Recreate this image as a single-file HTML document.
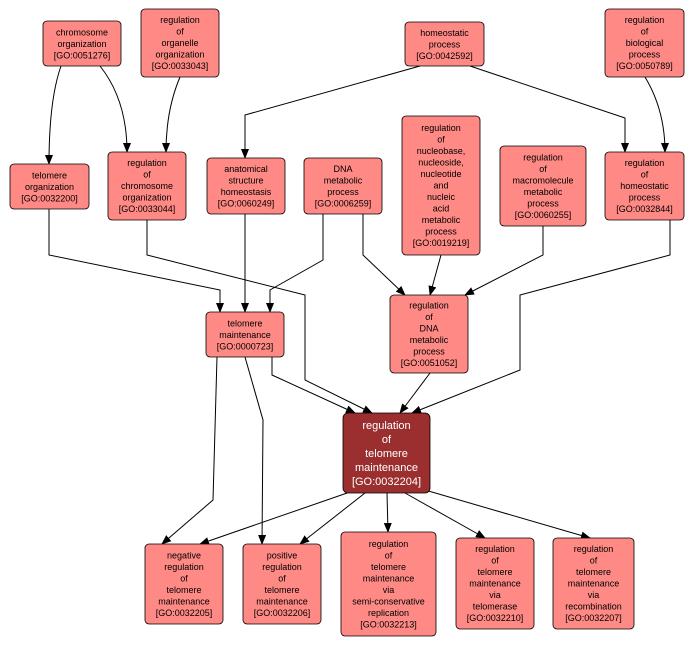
<!DOCTYPE html>
<html><head><meta charset="utf-8"><style>
html,body{margin:0;padding:0;background:#fff;}
svg{display:block;font-family:"Liberation Sans",sans-serif;}
.n{fill:#ff8a85;stroke:#000;stroke-width:0.8;}
text{font-size:9px;text-anchor:middle;fill:#000;}
.e{fill:none;stroke:#000;stroke-width:1;marker-end:url(#a);}
</style></head><body>
<svg width="696" height="647" viewBox="0 0 696 647">
<defs><marker id="a" markerWidth="10" markerHeight="8" refX="9" refY="4" orient="auto" markerUnits="userSpaceOnUse"><path d="M0,0 L10,4 L0,8 z" fill="#000"/></marker></defs>
<g>
<path class="e" d="M61,66 Q49,100 49,164"/>
<path class="e" d="M100,66 Q127,100 127,152"/>
<path class="e" d="M180,77 Q166,110 166,152"/>
<path class="e" d="M420,66 L245,115 L245,158"/>
<path class="e" d="M470,66 L625,118 L625,152"/>
<path class="e" d="M645,77 Q665,110 665,152"/>
<path class="e" d="M49,209 L49,255 L220,290 L220,312"/>
<path class="e" d="M245,214 L245,312"/>
<path class="e" d="M323,214 L323,260 L270,290 L270,312"/>
<path class="e" d="M363,214 L363,255 L405,295"/>
<path class="e" d="M441,255 L430,295"/>
<path class="e" d="M543,226 L543,255 L465,295"/>
<path class="e" d="M147,220 L147,255 L305,295 L305,380 L372,413"/>
<path class="e" d="M670,220 L670,255 L520,295 L520,370 L412,413"/>
<path class="e" d="M272,357 L272,375 L355,413"/>
<path class="e" d="M430,373 L400,413"/>
<path class="e" d="M217,357 L213,500 L162,544"/>
<path class="e" d="M245,357 L263,420 L262,544"/>
<path class="e" d="M350,492 L200,544"/>
<path class="e" d="M365,493 L300,544"/>
<path class="e" d="M387,493 L388,532"/>
<path class="e" d="M405,493 L485,538"/>
<path class="e" d="M425,490 L590,538"/>
</g>
<rect class="n" x="43" y="21" width="78" height="45" rx="4"/>
<text x="82" y="35.5">chromosome</text><text x="82" y="47">organization</text><text x="82" y="58.5">[GO:0051276]</text>
<rect class="n" x="141" y="9" width="78" height="68" rx="4"/>
<text x="180" y="23">regulation</text><text x="180" y="34.5">of</text><text x="180" y="46">organelle</text><text x="180" y="57.5">organization</text><text x="180" y="69">[GO:0033043]</text>
<rect class="n" x="405" y="22" width="79" height="44" rx="4"/>
<text x="444.5" y="36">homeostatic</text><text x="444.5" y="47.5">process</text><text x="444.5" y="59">[GO:0042592]</text>
<rect class="n" x="605" y="9" width="79" height="68" rx="4"/>
<text x="644.5" y="23">regulation</text><text x="644.5" y="34.5">of</text><text x="644.5" y="46">biological</text><text x="644.5" y="57.5">process</text><text x="644.5" y="69">[GO:0050789]</text>
<rect class="n" x="10" y="164" width="79" height="45" rx="4"/>
<text x="49.5" y="178.5">telomere</text><text x="49.5" y="190">organization</text><text x="49.5" y="201.5">[GO:0032200]</text>
<rect class="n" x="108" y="152" width="78" height="68" rx="4"/>
<text x="147" y="166">regulation</text><text x="147" y="177.5">of</text><text x="147" y="189">chromosome</text><text x="147" y="200.5">organization</text><text x="147" y="212">[GO:0033044]</text>
<rect class="n" x="207" y="158" width="78" height="56" rx="4"/>
<text x="246" y="171.75">anatomical</text><text x="246" y="183.25">structure</text><text x="246" y="194.75">homeostasis</text><text x="246" y="206.25">[GO:0060249]</text>
<rect class="n" x="304" y="158" width="78" height="56" rx="4"/>
<text x="343" y="171.75">DNA</text><text x="343" y="183.25">metabolic</text><text x="343" y="194.75">process</text><text x="343" y="206.25">[GO:0006259]</text>
<rect class="n" x="402" y="116" width="78" height="139" rx="4"/>
<text x="441" y="131">regulation</text><text x="441" y="142.5">of</text><text x="441" y="154">nucleobase,</text><text x="441" y="165.5">nucleoside,</text><text x="441" y="177">nucleotide</text><text x="441" y="188.5">and</text><text x="441" y="200">nucleic</text><text x="441" y="211.5">acid</text><text x="441" y="223">metabolic</text><text x="441" y="234.5">process</text><text x="441" y="246">[GO:0019219]</text>
<rect class="n" x="500" y="146" width="86" height="80" rx="4"/>
<text x="543" y="160.25">regulation</text><text x="543" y="171.75">of</text><text x="543" y="183.25">macromolecule</text><text x="543" y="194.75">metabolic</text><text x="543" y="206.25">process</text><text x="543" y="217.75">[GO:0060255]</text>
<rect class="n" x="605" y="152" width="79" height="68" rx="4"/>
<text x="644.5" y="166">regulation</text><text x="644.5" y="177.5">of</text><text x="644.5" y="189">homeostatic</text><text x="644.5" y="200.5">process</text><text x="644.5" y="212">[GO:0032844]</text>
<rect class="n" x="206" y="312" width="78" height="45" rx="4"/>
<text x="245" y="326.5">telomere</text><text x="245" y="338">maintenance</text><text x="245" y="349.5">[GO:0000723]</text>
<rect class="n" x="390" y="295" width="78" height="78" rx="4"/>
<text x="429" y="308.25">regulation</text><text x="429" y="319.75">of</text><text x="429" y="331.25">DNA</text><text x="429" y="342.75">metabolic</text><text x="429" y="354.25">process</text><text x="429" y="365.75">[GO:0051052]</text>
<rect x="343" y="413" width="87" height="80" rx="5" fill="#9b2f2f" stroke="#000" stroke-width="0.8"/>
<g style="font-size:11px"><text x="386.5" y="429" fill="#fff" style="font-size:11px;fill:#fff">regulation</text><text x="386.5" y="443" style="font-size:11px;fill:#fff">of</text><text x="386.5" y="457" style="font-size:11px;fill:#fff">telomere</text><text x="386.5" y="471" style="font-size:11px;fill:#fff">maintenance</text><text x="386.5" y="485" style="font-size:11px;fill:#fff">[GO:0032204]</text></g>
<rect class="n" x="145" y="544" width="78" height="80" rx="4"/>
<text x="184" y="558.25">negative</text><text x="184" y="569.75">regulation</text><text x="184" y="581.25">of</text><text x="184" y="592.75">telomere</text><text x="184" y="604.25">maintenance</text><text x="184" y="615.75">[GO:0032205]</text>
<rect class="n" x="243" y="544" width="78" height="80" rx="4"/>
<text x="282" y="558.25">positive</text><text x="282" y="569.75">regulation</text><text x="282" y="581.25">of</text><text x="282" y="592.75">telomere</text><text x="282" y="604.25">maintenance</text><text x="282" y="615.75">[GO:0032206]</text>
<rect class="n" x="341" y="532" width="95" height="104" rx="4"/>
<text x="388.5" y="546.75">regulation</text><text x="388.5" y="558.25">of</text><text x="388.5" y="569.75">telomere</text><text x="388.5" y="581.25">maintenance</text><text x="388.5" y="592.75">via</text><text x="388.5" y="604.25">semi-conservative</text><text x="388.5" y="615.75">replication</text><text x="388.5" y="627.25">[GO:0032213]</text>
<rect class="n" x="456" y="538" width="78" height="91" rx="4"/>
<text x="495" y="552">regulation</text><text x="495" y="563.5">of</text><text x="495" y="575">telomere</text><text x="495" y="586.5">maintenance</text><text x="495" y="598">via</text><text x="495" y="609.5">telomerase</text><text x="495" y="621">[GO:0032210]</text>
<rect class="n" x="553" y="538" width="81" height="91" rx="4"/>
<text x="593.5" y="552">regulation</text><text x="593.5" y="563.5">of</text><text x="593.5" y="575">telomere</text><text x="593.5" y="586.5">maintenance</text><text x="593.5" y="598">via</text><text x="593.5" y="609.5">recombination</text><text x="593.5" y="621">[GO:0032207]</text>
</svg>
</body></html>
